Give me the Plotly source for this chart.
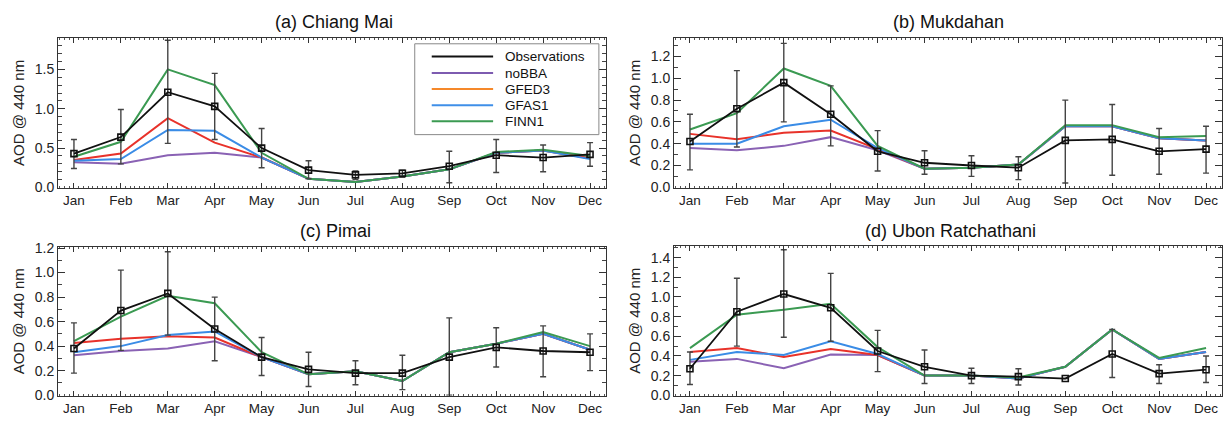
import plotly.graph_objects as go
from plotly.subplots import make_subplots

months = ["Jan", "Feb", "Mar", "Apr", "May", "Jun", "Jul", "Aug", "Sep", "Oct", "Nov", "Dec"]
month_idx = list(range(12))

titles = ["(a) Chiang Mai", "(b) Mukdahan", "(c) Pimai", "(d) Ubon Ratchathani"]

# (a) Chiang Mai
a_obs = [0.43, 0.64, 1.21, 1.03, 0.50, 0.22, 0.16, 0.18, 0.27, 0.41, 0.38, 0.42]
a_hi = [0.61, 0.99, 1.87, 1.45, 0.75, 0.34, 0.21, 0.22, 0.46, 0.61, 0.54, 0.57]
a_lo = [0.24, 0.30, 0.56, 0.61, 0.25, 0.11, 0.10, 0.13, 0.06, 0.19, 0.20, 0.27]
a_nobba = [0.32, 0.30, 0.41, 0.44, 0.38, 0.11, 0.07, 0.14, 0.23, 0.44, 0.47, 0.37]
a_gfed3 = [0.35, 0.43, 0.88, 0.57, 0.38, 0.11, 0.07, 0.14, 0.23, 0.44, 0.47, 0.37]
a_gfas1 = [0.34, 0.36, 0.73, 0.72, 0.38, 0.11, 0.07, 0.14, 0.23, 0.44, 0.47, 0.36]
a_finn1 = [0.39, 0.58, 1.50, 1.30, 0.44, 0.11, 0.07, 0.14, 0.23, 0.45, 0.48, 0.40]

# (b) Mukdahan
b_obs = [0.42, 0.72, 0.96, 0.67, 0.33, 0.225, 0.20, 0.18, 0.43, 0.44, 0.33, 0.35]
b_hi = [0.67, 1.07, 1.32, 0.93, 0.52, 0.335, 0.29, 0.28, 0.80, 0.76, 0.54, 0.56]
b_lo = [0.16, 0.37, 0.60, 0.38, 0.15, 0.12, 0.10, 0.07, 0.04, 0.11, 0.12, 0.13]
b_nobba = [0.36, 0.34, 0.38, 0.46, 0.34, 0.17, 0.18, 0.21, 0.56, 0.56, 0.45, 0.43]
b_gfed3 = [0.49, 0.44, 0.50, 0.52, 0.35, 0.17, 0.18, 0.21, 0.56, 0.56, 0.45, 0.43]
b_gfas1 = [0.40, 0.40, 0.56, 0.62, 0.36, 0.17, 0.18, 0.21, 0.56, 0.56, 0.45, 0.43]
b_finn1 = [0.53, 0.68, 1.09, 0.93, 0.38, 0.17, 0.18, 0.21, 0.57, 0.57, 0.46, 0.47]

# (c) Pimai
c_obs = [0.38, 0.69, 0.83, 0.54, 0.31, 0.21, 0.18, 0.18, 0.31, 0.39, 0.36, 0.35]
c_hi = [0.59, 1.02, 1.17, 0.80, 0.47, 0.35, 0.28, 0.325, 0.63, 0.55, 0.565, 0.50]
c_lo = [0.18, 0.365, 0.49, 0.28, 0.16, 0.07, 0.085, 0.045, 0.0, 0.23, 0.15, 0.20]
c_nobba = [0.325, 0.36, 0.38, 0.44, 0.31, 0.17, 0.195, 0.115, 0.35, 0.42, 0.50, 0.37]
c_gfed3 = [0.425, 0.46, 0.48, 0.47, 0.31, 0.17, 0.195, 0.115, 0.35, 0.42, 0.50, 0.37]
c_gfas1 = [0.35, 0.40, 0.49, 0.52, 0.31, 0.17, 0.195, 0.115, 0.35, 0.42, 0.50, 0.37]
c_finn1 = [0.44, 0.64, 0.81, 0.75, 0.35, 0.17, 0.195, 0.115, 0.35, 0.42, 0.515, 0.40]

# (d) Ubon Ratchathani
d_obs = [0.27, 0.85, 1.03, 0.89, 0.45, 0.29, 0.20, 0.19, 0.17, 0.42, 0.22, 0.26]
d_hi = [0.44, 1.19, 1.48, 1.24, 0.66, 0.46, 0.275, 0.27, 0.17, 0.67, 0.31, 0.40]
d_lo = [0.11, 0.50, 0.59, 0.55, 0.24, 0.12, 0.12, 0.105, 0.17, 0.18, 0.12, 0.13]
d_nobba = [0.34, 0.37, 0.275, 0.415, 0.41, 0.20, 0.20, 0.17, 0.29, 0.67, 0.37, 0.44]
d_gfed3 = [0.44, 0.48, 0.39, 0.47, 0.41, 0.20, 0.20, 0.17, 0.29, 0.67, 0.37, 0.44]
d_gfas1 = [0.36, 0.44, 0.41, 0.55, 0.42, 0.20, 0.20, 0.17, 0.29, 0.67, 0.37, 0.44]
d_finn1 = [0.48, 0.82, 0.87, 0.93, 0.49, 0.20, 0.20, 0.18, 0.29, 0.67, 0.38, 0.48]

panels = [
    (a_obs, a_hi, a_lo, a_nobba, a_gfed3, a_gfas1, a_finn1),
    (b_obs, b_hi, b_lo, b_nobba, b_gfed3, b_gfas1, b_finn1),
    (c_obs, c_hi, c_lo, c_nobba, c_gfed3, c_gfas1, c_finn1),
    (d_obs, d_hi, d_lo, d_nobba, d_gfed3, d_gfas1, d_finn1),
]
y_ranges = [[-0.005, 1.9], [-0.005, 1.37], [-0.005, 1.21], [-0.005, 1.52]]
y_dticks = [0.5, 0.2, 0.2, 0.2]

legend_names = ["Observations", "noBBA", "GFED3", "GFAS1", "FINN1"]
legend_colors = ["#111111", "#7d5bb0", "#f5882a", "#3f8fe8", "#3b9a52"]
model_colors = ["#8a62b4", "#e8322a", "#3a8ce6", "#3b9a52"]

FONT = "Liberation Sans, Arial, sans-serif"

fig = make_subplots(rows=2, cols=2)

W, H = 1230, 425
# pixel boxes of plot areas (left, right, top, bottom)
boxes = [(58, 606, 32, 187), (674, 1222, 32, 187), (58, 606, 248, 402), (674, 1222, 247, 402)]
positions = [(1, 1), (1, 2), (2, 1), (2, 2)]
title_pos = [(334, 16), (949, 16), (335, 232), (950, 232)]

for k, (data, (r, c)) in enumerate(zip(panels, positions)):
    obs, hi, lo, nobba, gfed3, gfas1, finn1 = data
    for series, col in zip([nobba, gfed3, gfas1, finn1], model_colors):
        fig.add_trace(go.Scatter(x=month_idx, y=series, mode="lines",
                                 line=dict(color=col, width=2), showlegend=False,
                                 hoverinfo="skip"), row=r, col=c)
    fig.add_trace(go.Scatter(
        x=month_idx, y=obs, mode="lines+markers",
        line=dict(color="#111111", width=1.8),
        marker=dict(symbol="square-open", size=6, color="#111111", line=dict(width=1.6)),
        error_y=dict(type="data", symmetric=False,
                     array=[h - o for h, o in zip(hi, obs)],
                     arrayminus=[o - l for o, l in zip(obs, lo)],
                     color="#444444", thickness=1.4, width=3),
        showlegend=False), row=r, col=c)

    L, R, T, B = boxes[k]
    xa = "xaxis" if k == 0 else f"xaxis{k+1}"
    ya = "yaxis" if k == 0 else f"yaxis{k+1}"
    fig.layout[xa].update(
        domain=[L / W, R / W], range=[-0.34, 11.34],
        tickvals=month_idx, ticktext=months,
        ticks="inside", ticklen=5, tickwidth=1, tickcolor="#333333",
        minor=dict(dtick=0.1, tick0=0, ticks="inside", ticklen=2, tickwidth=1, tickcolor="#555555"),
        showline=True, linecolor="#333333", linewidth=1, mirror="ticks",
        showgrid=False, zeroline=False,
        tickfont=dict(family=FONT, size=13.5, color="#222222"))
    fig.layout[ya].update(
        domain=[1 - B / H, 1 - T / H], range=y_ranges[k],
        dtick=y_dticks[k], tick0=0, tickformat=".1f",
        ticks="inside", ticklen=7, tickwidth=1, tickcolor="#333333",
        minor=dict(dtick=0.1, tick0=0, ticks="inside", ticklen=4, tickwidth=1, tickcolor="#444444"),
        showline=True, linecolor="#333333", linewidth=1, mirror="ticks",
        showgrid=False, zeroline=False,
        tickfont=dict(family=FONT, size=14, color="#222222"),
        title=dict(text="AOD @ 440 nm", font=dict(family=FONT, size=15, color="#222222"), standoff=6))

    tx, ty = title_pos[k]
    fig.add_annotation(x=tx / W, y=1 - ty / H, xref="paper", yref="paper",
                       text=titles[k], showarrow=False, xanchor="center", yanchor="middle",
                       font=dict(family=FONT, size=18, color="#111111"))

# legend drawn inside panel (a)
fig.add_shape(type="rect", xref="x domain", yref="y domain", x0=0.651, x1=0.987, y0=0.355, y1=0.961,
              line=dict(color="#888888", width=1), fillcolor="white")
row_y = [0.877, 0.766, 0.659, 0.551, 0.444]
for name, col, yy in zip(legend_names, legend_colors, row_y):
    fig.add_shape(type="line", xref="x domain", yref="y domain", x0=0.682, x1=0.794, y0=yy, y1=yy,
                  line=dict(color=col, width=2))
    fig.add_annotation(x=0.812, y=yy, xref="x domain", yref="y domain", text=name, showarrow=False,
                       xanchor="left", yanchor="middle",
                       font=dict(family=FONT, size=13.5, color="#111111"))

fig.update_layout(width=W, height=H, margin=dict(l=0, r=0, t=0, b=0),
                  paper_bgcolor="white", plot_bgcolor="white", showlegend=False)

fig.write_html("out.html", config={"displayModeBar": False},
               post_script="document.body.style.margin='0';document.body.style.overflow='hidden';")
